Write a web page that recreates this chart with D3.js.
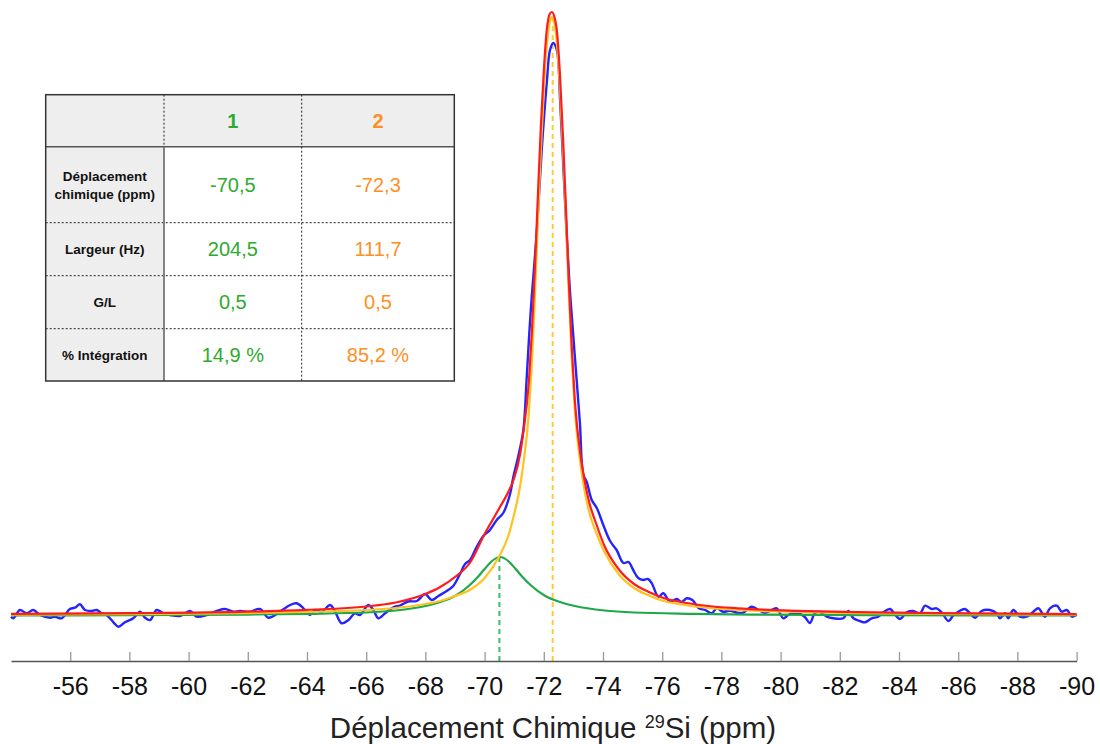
<!DOCTYPE html>
<html><head><meta charset="utf-8">
<script src="https://cdn.jsdelivr.net/npm/d3@7"></script>
<style>
html,body{margin:0;padding:0;background:#fff;}
svg{display:block;font-family:"Liberation Sans",Arial,Helvetica,sans-serif;}
</style></head>
<body>
<svg id="chart" width="1100" height="744"></svg>
<script>
// ---------- DATA ----------
const xDomain = [-54, -90];
const tickValues = [-56,-58,-60,-62,-64,-66,-68,-70,-72,-74,-76,-78,-80,-82,-84,-86,-88,-90];
const axisTitle = "Déplacement Chimique ";
const axisTitleSup = "29";
const axisTitleEnd = "Si (ppm)";

// experimental spectrum (blue): [ppm, intensity]
const experimental = [
[-54.00,-0.7],[-54.08,-2.3],[-54.30,6],[-54.53,2.7],[-54.75,6],[-54.98,1],[-55.32,-1.7],[-55.49,-0.7],[-55.71,-2.3],
[-55.99,7],[-56.16,8.3],[-56.33,11.7],[-56.50,6],[-56.73,5],[-56.90,6],[-57.06,2.7],[-57.23,1],[-57.46,-6.3],[-57.63,-10.7],
[-57.85,-6.3],[-58.13,-2.3],[-58.36,4.3],[-58.53,-1.7],[-58.70,-4],[-58.92,6],[-59.15,2.7],[-59.37,1],[-59.71,0],[-60.05,5],
[-60.27,-0.7],[-60.61,1],[-60.95,5],[-61.23,7],[-61.51,4.3],[-61.74,5],[-62.07,4.3],[-62.41,7],[-62.69,-1.7],[-62.98,2],
[-63.09,4.3],[-63.43,11],[-63.65,12.7],[-63.88,7.7],[-64.10,1],[-64.27,6],[-64.50,4.3],[-64.78,11],[-64.95,4.3],[-65.17,-7.3],
[-65.40,-4],[-65.62,2.7],[-65.79,1],[-66.07,11],[-66.24,6],[-66.41,-2.3],[-66.64,2.7],[-66.92,8.7],[-67.14,10.5],[-67.42,14.5],
[-67.71,15],[-67.99,22],[-68.21,16],[-68.44,20],[-68.72,25],[-68.94,30],[-69.17,42],[-69.34,52],[-69.51,56],[-69.73,69],
[-69.96,80],[-70.18,86],[-70.41,96],[-70.63,103],[-70.86,122],[-70.97,139],[-71.14,160],[-71.31,186],[-71.42,237],[-71.51,283],
[-71.59,318],[-71.76,383],[-71.93,466],[-72.10,533],[-72.21,566],[-72.32,573],[-72.44,566],[-72.55,516],[-72.66,449],[-72.77,383],
[-72.89,322],[-73.05,259],[-73.22,193],[-73.33,142],[-73.45,134],[-73.62,116],[-73.79,108],[-74.01,91],[-74.24,75],[-74.46,66],
[-74.69,53],[-74.86,54],[-75.02,46],[-75.19,38],[-75.36,36],[-75.52,37],[-75.65,32.7],[-75.87,19.3],[-76.04,22.7],[-76.26,14.3],
[-76.49,17],[-76.66,14],[-76.83,17.7],[-77.02,16],[-77.24,7.7],[-77.45,6],[-77.67,2.7],[-77.84,7.7],[-78.06,4.3],[-78.29,5.3],
[-78.52,3.3],[-78.74,3.3],[-79.02,9.3],[-79.25,6],[-79.47,3.3],[-79.70,6],[-79.87,7.7],[-80.09,-2.3],[-80.26,1],[-80.43,2.7],
[-80.66,2],[-80.82,-1],[-80.99,-7],[-81.16,3],[-81.33,4],[-81.56,-0.7],[-81.78,-2.3],[-82.12,-2.3],[-82.29,5],[-82.46,-2.3],
[-82.68,-5],[-82.85,-6.3],[-83.08,-2.3],[-83.30,-0.7],[-83.47,3.7],[-83.70,7],[-83.86,1.7],[-84.03,-3],[-84.26,3.7],[-84.48,5],
[-84.71,2.7],[-84.88,10.3],[-85.10,7],[-85.27,7.7],[-85.44,3.7],[-85.67,-5],[-85.84,1],[-86.00,4.3],[-86.23,7],[-86.40,2.7],
[-86.57,-1.7],[-86.79,5],[-87.07,6],[-87.30,2.7],[-87.41,-2.3],[-87.58,2.7],[-87.69,-2.3],[-87.86,6],[-88.09,-0.7],[-88.31,-0.7],
[-88.54,4.3],[-88.71,7.7],[-88.93,-0.7],[-89.10,7.7],[-89.33,10.3],[-89.50,4.3],[-89.67,6],[-89.85,-0.7],[-90.00,1.7]
];

// total fit (red)
const fitTotal = [
[-54,2.2],[-58,2.8],[-62,4.3],[-64,6.2],[-66,9.5],[-67,13.5],[-68,22],[-68.5,29],[-69,39],[-69.5,53],[-70,82],[-70.5,108],
[-70.8,124],[-71,138],[-71.2,162],[-71.3,182],[-71.5,236],[-71.6,286],[-71.7,348],[-71.8,420],[-71.9,489],[-72,545],[-72.1,586],
[-72.2,602],[-72.27,604],[-72.35,600],[-72.45,583],[-72.55,539],[-72.65,478],[-72.75,407],[-72.85,331],[-72.95,266],[-73.05,215],
[-73.25,159],[-73.35,140],[-73.55,112],[-73.75,94],[-74.05,70],[-74.55,46],[-75.05,32],[-75.55,24],[-76.05,18],[-76.55,14.5],
[-77.55,10],[-78.55,7.7],[-80.55,5.2],[-82.55,3.8],[-86.55,2.6],[-90,1.9]
];

// component 2 (yellow)
const fitComp2 = [
[-54,1.3],[-58,1.9],[-62,2.9],[-64,4],[-66,6],[-67,8],[-68,12],[-68.5,15],[-69,20],[-69.5,26],[-70,38],[-70.5,60],[-70.8,80],
[-71,102],[-71.2,130],[-71.3,150],[-71.5,205],[-71.6,255],[-71.7,320],[-71.8,395],[-71.9,465],[-72,525],[-72.1,570],[-72.2,594],
[-72.27,599],[-72.35,594],[-72.45,570],[-72.55,525],[-72.65,465],[-72.75,395],[-72.85,320],[-72.95,255],[-73.05,205],[-73.25,150],
[-73.35,130],[-73.55,102],[-73.75,85],[-74.05,64],[-74.55,41],[-75.05,28],[-75.55,20.5],[-76.05,15],[-76.55,12],[-77.55,8],
[-78.55,6],[-80.55,4],[-82.55,2.9],[-86.55,1.9],[-90,1.4]
];

// component 1 (green)
const fitComp1 = [
[-54,0.6],[-58,0.9],[-62,1.4],[-64,2.2],[-66,3.5],[-67,5.5],[-68,10],[-68.5,14],[-69,20],[-69.5,31],[-69.8,40],[-70,47],
[-70.25,55],[-70.53,59],[-70.8,55],[-71.05,47],[-71.25,40],[-71.55,31],[-72.05,20],[-72.55,14],[-73.05,10],[-74.05,5.5],
[-75.05,3.5],[-77.05,2.2],[-79,1.4],[-83,0.9],[-90,0.5]
];

// peak markers (dashed)
const peakPositions = [-70.5, -72.3];
const peakHeights = [59, 599];

// table
const tableColumns = ["1", "2"];
const tableRowLabels = [["Déplacement","chimique (ppm)"],["Largeur (Hz)"],["G/L"],["% Intégration"]];
const tableValues1 = ["-70,5", "204,5", "0,5", "14,9 %"];
const tableValues2 = ["-72,3", "111,7", "0,5", "85,2 %"];

// ---------- DRAW ----------
const svg = d3.select("#chart");
const x = d3.scaleLinear().domain(xDomain).range([11, 1076.6]);
const y = d3.scaleLinear().domain([0, 600]).range([616, 16]);
const axisY = 661;

const COL = {blue:"#2424ff", red:"#ff1c1c", yellow:"#ffc21f", green:"#1fa84a",
             dashGreen:"#3cbb6e", dashYellow:"#ffca3a", txtGreen:"#2eaa2e", txtOrange:"#ff8f1f"};

// dashed peak lines
const dashColors = [COL.dashGreen, COL.dashYellow];
svg.append("g").selectAll("line").data(peakPositions).join("line")
  .attr("x1", d => x(d)).attr("x2", d => x(d))
  .attr("y1", (d,i) => y(peakHeights[i])).attr("y2", axisY)
  .attr("stroke", (d,i) => dashColors[i]).attr("stroke-width", 2)
  .attr("stroke-dasharray", "5,4");

const smooth = d3.line().x(d => x(d[0])).y(d => y(d[1])).curve(d3.curveMonotoneX);
const noisy = d3.line().x(d => x(d[0])).y(d => y(d[1])).curve(d3.curveCatmullRom.alpha(0.5));

svg.append("path").datum(experimental).attr("d", noisy)
  .attr("fill","none").attr("stroke",COL.blue).attr("stroke-width",2.4).attr("stroke-linejoin","round");
svg.append("path").datum(fitComp1).attr("d", smooth)
  .attr("fill","none").attr("stroke",COL.green).attr("stroke-width",2.2);
svg.append("path").datum(fitComp2).attr("d", smooth)
  .attr("fill","none").attr("stroke",COL.yellow).attr("stroke-width",2.2);
svg.append("path").datum(fitTotal).attr("d", smooth)
  .attr("fill","none").attr("stroke",COL.red).attr("stroke-width",2.2);

// axis
const axis = d3.axisBottom(x).tickValues(tickValues).tickFormat(d => String(d))
  .tickSizeInner(-9).tickSizeOuter(0).tickPadding(16);
const gAxis = svg.append("g").attr("transform", `translate(0,${axisY})`).call(axis);
gAxis.select(".domain").attr("stroke","#555").attr("stroke-width",1.5);
gAxis.selectAll(".tick line").attr("stroke","#999").attr("stroke-width",1.3);
gAxis.selectAll(".tick text").attr("fill","#111").style("font-size","25px")
  .style("font-family",'"Liberation Sans",Arial,sans-serif');

const title = svg.append("text").attr("x", 553).attr("y", 738).attr("text-anchor","middle")
  .attr("fill","#222").style("font-size","29.5px");
title.append("tspan").text(axisTitle);
title.append("tspan").text(axisTitleSup).style("font-size","18px").attr("dy", -10);
title.append("tspan").text(axisTitleEnd).attr("dy", 10);

// table
const tx = [45.7, 164, 301.7, 454.3];
const ty = [94.7, 146.7, 222.7, 275.7, 328.7, 381];
const gt = svg.append("g");
gt.append("rect").attr("x",tx[0]).attr("y",ty[0]).attr("width",tx[3]-tx[0]).attr("height",ty[1]-ty[0]).attr("fill","#eeeeee");
gt.append("rect").attr("x",tx[0]).attr("y",ty[1]).attr("width",tx[1]-tx[0]).attr("height",ty[5]-ty[1]).attr("fill","#eeeeee");
[2,3,4].forEach(i => gt.append("line").attr("x1",tx[0]).attr("x2",tx[3]).attr("y1",ty[i]).attr("y2",ty[i])
  .attr("stroke","#222").attr("stroke-width",1).attr("stroke-dasharray","2,2"));
gt.append("line").attr("x1",tx[0]).attr("x2",tx[3]).attr("y1",ty[1]).attr("y2",ty[1]).attr("stroke","#555").attr("stroke-width",1.6);
gt.append("line").attr("x1",tx[1]).attr("x2",tx[1]).attr("y1",ty[0]).attr("y2",ty[1])
  .attr("stroke","#222").attr("stroke-width",1).attr("stroke-dasharray","2,2");
gt.append("line").attr("x1",tx[1]).attr("x2",tx[1]).attr("y1",ty[1]).attr("y2",ty[5]).attr("stroke","#777").attr("stroke-width",1.8);
gt.append("line").attr("x1",tx[2]).attr("x2",tx[2]).attr("y1",ty[0]).attr("y2",ty[5])
  .attr("stroke","#222").attr("stroke-width",1).attr("stroke-dasharray","2,2");
gt.append("rect").attr("x",tx[0]).attr("y",ty[0]).attr("width",tx[3]-tx[0]).attr("height",ty[5]-ty[0])
  .attr("fill","none").attr("stroke","#333").attr("stroke-width",1.5);

const colCenters = [(tx[1]+tx[2])/2, (tx[2]+tx[3])/2];
const colColors = [COL.txtGreen, COL.txtOrange];
gt.selectAll("text.hdr").data(tableColumns).join("text").attr("class","hdr")
  .attr("x",(d,i)=>colCenters[i]).attr("y",(ty[0]+ty[1])/2).attr("dy","0.36em")
  .attr("text-anchor","middle").attr("fill",(d,i)=>colColors[i])
  .style("font-size","20px").style("font-weight","bold").text(d=>d);

const labelX = (tx[0]+tx[1])/2;
tableRowLabels.forEach((lines, r) => {
  const cy = (ty[r+1]+ty[r+2])/2;
  const t = gt.append("text").attr("x",labelX).attr("text-anchor","middle").attr("fill","#111")
    .style("font-size","13.5px").style("font-weight","bold");
  const lh = 18;
  lines.forEach((ln, k) => {
    t.append("tspan").attr("x",labelX).attr("y", cy + (k - (lines.length-1)/2)*lh).attr("dy","0.36em").text(ln);
  });
  [tableValues1[r], tableValues2[r]].forEach((v, c) => {
    gt.append("text").attr("x",colCenters[c]).attr("y",cy).attr("dy","0.36em").attr("text-anchor","middle")
      .attr("fill",colColors[c]).style("font-size","20px").text(v);
  });
});
</script>
</body></html>
